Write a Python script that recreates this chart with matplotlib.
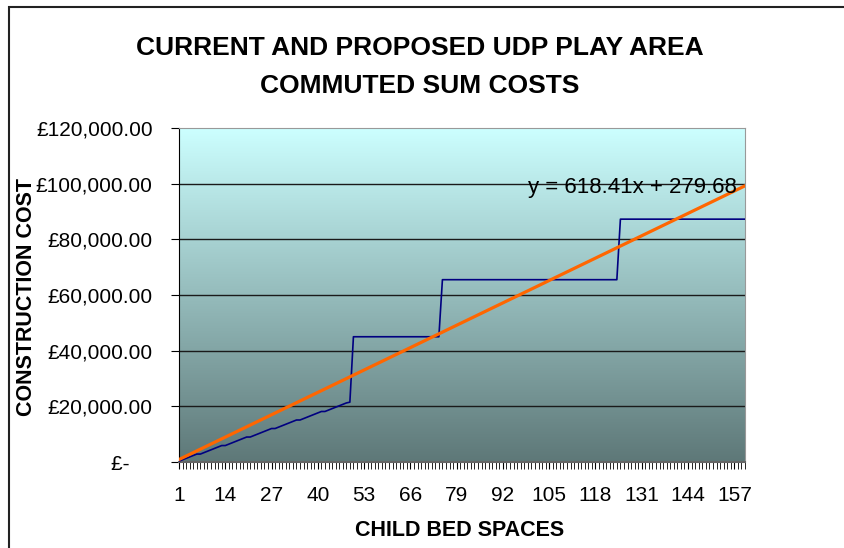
import matplotlib.pyplot as plt
from matplotlib.patches import Rectangle
import numpy as np

# cost for the first 49 bed spaces
rising_costs = [300, 810, 1320, 1830, 2340, 2850, 2850, 3360, 3870, 4380,
                4890, 5400, 5910, 5910, 6420, 6930, 7440, 7950, 8460, 8970,
                8970, 9480, 9990, 10500, 11010, 11520, 12030, 12030, 12540, 13050,
                13560, 14070, 14580, 15090, 15090, 15600, 16110, 16620, 17130, 17640,
                18150, 18150, 18660, 19170, 19680, 20190, 20700, 21210, 21500]
# flat levels after that and how many bed spaces each covers
step_levels = [45000, 65500, 87250]
step_counts = [25, 50, 36]

trend_slope = 618.41
trend_intercept = 279.68

y_ticks = [0, 20000, 40000, 60000, 80000, 100000, 120000]
y_labels = ['£-    ', '£20,000.00', '£40,000.00', '£60,000.00',
            '£80,000.00', '£100,000.00', '£120,000.00']
x_label_spaces = [1, 14, 27, 40, 53, 66, 79, 92, 105, 118, 131, 144, 157]

costs = list(rising_costs)
for lvl, n in zip(step_levels, step_counts):
    costs += [lvl] * n
spaces = np.arange(1, len(costs) + 1)
trend = trend_slope * spaces + trend_intercept

plt.rcParams['font.family'] = ['Liberation Sans', 'DejaVu Sans']

fig = plt.figure(figsize=(8.45, 5.48), dpi=100)
ax = fig.add_axes([179 / 845, 86 / 548, 566 / 845, 334 / 548])

# outer chart border (only left/top visible in the reference)
fig.patches.append(Rectangle((9 / 845, -0.1), 1.2, 1 - 7 / 548 + 0.1,
                             transform=fig.transFigure, fill=False,
                             edgecolor='#222222', linewidth=1.5))

# gradient background
top = np.array([204, 255, 255]) / 255
bot = np.array([94, 120, 120]) / 255
t = np.linspace(0, 1, 256)[:, None]
grad = (top * (1 - t) + bot * t)[:, None, :]
ax.imshow(grad, extent=[1, len(costs), 0, 120000], aspect='auto',
          zorder=0, interpolation='bilinear')

for yt in y_ticks[1:-1]:
    ax.axhline(yt, color='#1a1a1a', linewidth=1.0, zorder=1)

ax.plot(spaces, costs, color='#000080', linewidth=1.2, zorder=3)
ax.plot(spaces, trend, color='#FF6600', linewidth=2.3, zorder=4)

ax.set_xlim(1, len(costs))
ax.set_ylim(0, 120000)

ax.set_yticks(y_ticks)
ax.set_yticklabels(y_labels, fontsize=15)
ax.set_xticks(x_label_spaces)
ax.set_xticklabels([str(v) for v in x_label_spaces], fontsize=15)
ax.set_xticks(spaces, minor=True)
ax.tick_params(axis='y', direction='out', length=6, pad=13, color='black')
ax.tick_params(axis='x', which='both', direction='out', length=5, pad=12,
               color='black')

for s in ['top', 'right']:
    ax.spines[s].set_color('#999999')
ax.spines['left'].set_color('black')
ax.spines['bottom'].set_color('#666666')
ax.spines['bottom'].set_linewidth(1.5)

fig.text(528 / 845, 1 - 187 / 548, 'y = 618.41x + 279.68', fontsize=16,
         ha='left', va='center')

fig.text(420 / 845, 1 - 67 / 548,
         'CURRENT AND PROPOSED UDP PLAY AREA\nCOMMUTED SUM COSTS',
         ha='center', va='center', fontsize=19, fontweight='bold',
         linespacing=1.72)
fig.text(27 / 845, 1 - 297 / 548, 'CONSTRUCTION COST', rotation=90,
         ha='center', va='center', fontsize=15.5, fontweight='bold')
fig.text(460 / 845, 1 - 530 / 548, 'CHILD BED SPACES',
         ha='center', va='center', fontsize=15.5, fontweight='bold')

fig.savefig('out.png', dpi=100)
